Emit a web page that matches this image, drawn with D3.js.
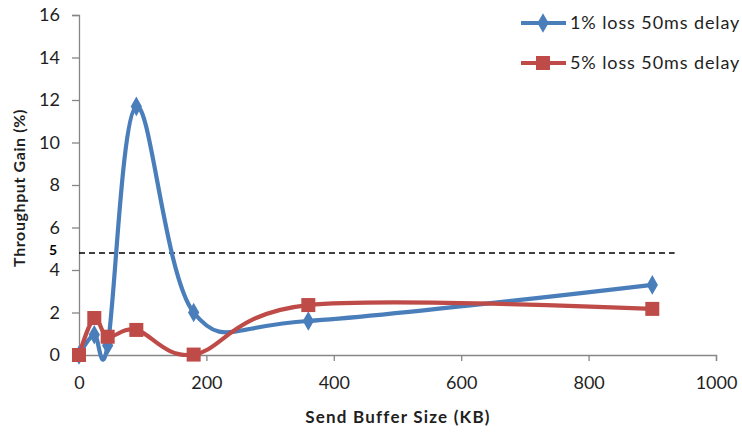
<!DOCTYPE html>
<html><head><meta charset="utf-8">
<script src="https://cdn.jsdelivr.net/npm/d3@7"></script>
<style>body{margin:0;background:#fff}text{font-family:Lato,"Open Sans",sans-serif}</style>
</head><body>
<svg id="c" width="742" height="432"></svg>
<script>
const bufferKB = [0, 24, 45, 90, 180, 360, 900];
const loss1 = [0, 0.95, 0.45, 11.7, 2.0, 1.6, 3.3];
const loss5 = [0, 1.74, 0.86, 1.18, 0.02, 2.35, 2.17];
const seriesNames = ["1% loss 50ms delay", "5% loss 50ms delay"];
const xTicks = [0, 200, 400, 600, 800, 1000];
const yTicks = [0, 2, 4, 6, 8, 10, 12, 14, 16];
const threshold = 4.8;
const thresholdLabel = "5";

const svg = d3.select("#c");
const x = d3.scaleLinear().domain([0, 1000]).range([79, 716]);
const y = d3.scaleLinear().domain([0, 16]).range([355, 15]);
const axisCol = "#868686", txtCol = "#1f1f1f";

const ya = svg.append("g").attr("transform", "translate(79,0)")
  .call(d3.axisLeft(y).tickValues(yTicks).tickSize(7).tickPadding(12).tickFormat(d3.format("d")));
const xa = svg.append("g").attr("transform", "translate(0,355)")
  .call(d3.axisBottom(x).tickValues(xTicks).tickSize(6).tickPadding(15).tickFormat(d3.format("d")));
[ya, xa].forEach(g => {
  g.selectAll("path,line").attr("stroke", axisCol).attr("stroke-width", 1.3);
  g.selectAll("text").attr("fill", txtCol).style("font-size", "18px").style("font-family", "Lato,'Open Sans',sans-serif");
});

svg.append("text").attr("transform", "translate(25,188) rotate(-90)")
  .attr("text-anchor", "middle").style("font-size", "16px").style("font-weight", "bold")
  .style("letter-spacing", "0.6px").attr("fill", txtCol)
  .text("Throughput Gain  (%)");
svg.append("text").attr("x", 398).attr("y", 423).attr("text-anchor", "middle")
  .style("font-size", "17px").style("font-weight", "bold").style("letter-spacing", "1.2px")
  .attr("fill", txtCol).text("Send Buffer Size (KB)");

svg.append("line").attr("x1", x(0)).attr("x2", x(935)).attr("y1", y(threshold)).attr("y2", y(threshold))
  .attr("stroke", "#000").attr("stroke-width", 1.3).attr("stroke-dasharray", "6,4");
svg.append("text").attr("x", 57).attr("y", y(threshold) + 2).attr("text-anchor", "end")
  .style("font-size", "14px").style("font-weight", "bold").attr("fill", "#000").text(thresholdLabel);

const colors = ["#4A7EBB", "#BE4B48"];
const series = [loss1, loss5];
const line = d3.line().x(d => x(d[0])).y(d => y(d[1])).curve(d3.curveCatmullRom.alpha(0));

const diamond = d3.symbol().type(d3.symbolDiamond).size(110);
function marker(g, i, cx, cy) {
  if (i === 0) g.append("path").attr("d", diamond()).attr("transform", `translate(${cx},${cy})`).attr("fill", colors[0]);
  else g.append("rect").attr("x", cx - 7).attr("y", cy - 7).attr("width", 14).attr("height", 14).attr("fill", colors[1]);
}

series.forEach((vals, i) => {
  const pts = bufferKB.map((b, j) => [b, vals[j]]);
  svg.append("path").attr("d", line(pts)).attr("fill", "none").attr("stroke", colors[i]).attr("stroke-width", 4.2);
});
series.forEach((vals, i) => {
  const g = svg.append("g");
  bufferKB.forEach((b, j) => marker(g, i, x(b), y(vals[j])));
});

// legend
seriesNames.forEach((n, i) => {
  const ly = 23 + i * 40;
  svg.append("line").attr("x1", 521).attr("x2", 566).attr("y1", ly).attr("y2", ly).attr("stroke", colors[i]).attr("stroke-width", 4.2);
  const g = svg.append("g");
  marker(g, i, 543, ly);
  svg.append("text").attr("x", 570).attr("y", ly + 6).style("font-size", "18px")
    .style("letter-spacing", "0.9px").attr("fill", txtCol).text(n);
});
</script>
</body></html>
